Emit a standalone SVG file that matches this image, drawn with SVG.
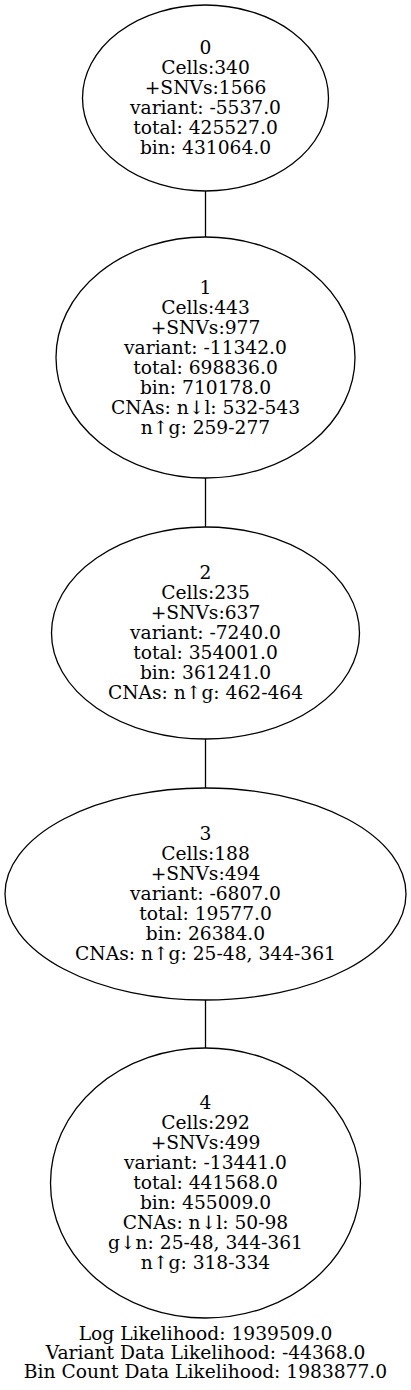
<svg xmlns="http://www.w3.org/2000/svg" width="411" height="1390" viewBox="0 0 411 1390">
<style>
  .node ellipse { fill: none; stroke: #000; stroke-width: 1.3; }
  text { font-family: "DejaVu Serif", "Liberation Serif", serif; font-size: 18.67px; text-anchor: middle; fill: #000; }
  .edges line { stroke: #000; stroke-width: 1.3; }
</style>
<rect width="411" height="1390" fill="#fff"/>
<g class="edges" id="edges">
  <line x1="205.5" y1="191" x2="205.5" y2="237"/>
  <line x1="205.5" y1="478" x2="205.5" y2="527"/>
  <line x1="205.5" y1="739" x2="205.5" y2="788"/>
  <line x1="205.5" y1="1000" x2="205.5" y2="1048"/>
</g>
<g class="node" id="node0">
  <ellipse cx="205.5" cy="98" rx="123" ry="93"/>
  <text x="205.5" y="54">0</text>
  <text x="205.5" y="74">Cells:340</text>
  <text x="205.5" y="94">+SNVs:1566</text>
  <text x="205.5" y="114">variant: -5537.0</text>
  <text x="205.5" y="134">total: 425527.0</text>
  <text x="205.5" y="154">bin: 431064.0</text>
</g>
<g class="node" id="node1">
  <ellipse cx="205.5" cy="357.5" rx="149.5" ry="120.5"/>
  <text x="205.5" y="294">1</text>
  <text x="205.5" y="314">Cells:443</text>
  <text x="205.5" y="334">+SNVs:977</text>
  <text x="205.5" y="354">variant: -11342.0</text>
  <text x="205.5" y="374">total: 698836.0</text>
  <text x="205.5" y="394">bin: 710178.0</text>
  <text x="205.5" y="414">CNAs: n↓l: 532-543</text>
  <text x="205.5" y="434">n↑g: 259-277</text>
</g>
<g class="node" id="node2">
  <ellipse cx="205.5" cy="633" rx="154" ry="106"/>
  <text x="205.5" y="579">2</text>
  <text x="205.5" y="599">Cells:235</text>
  <text x="205.5" y="619">+SNVs:637</text>
  <text x="205.5" y="639">variant: -7240.0</text>
  <text x="205.5" y="659">total: 354001.0</text>
  <text x="205.5" y="679">bin: 361241.0</text>
  <text x="205.5" y="699">CNAs: n↑g: 462-464</text>
</g>
<g class="node" id="node3">
  <ellipse cx="205.5" cy="894" rx="200.5" ry="106"/>
  <text x="205.5" y="840">3</text>
  <text x="205.5" y="860">Cells:188</text>
  <text x="205.5" y="880">+SNVs:494</text>
  <text x="205.5" y="900">variant: -6807.0</text>
  <text x="205.5" y="920">total: 19577.0</text>
  <text x="205.5" y="940">bin: 26384.0</text>
  <text x="205.5" y="960">CNAs: n↑g: 25-48, 344-361</text>
</g>
<g class="node" id="node4">
  <ellipse cx="205.5" cy="1183" rx="155" ry="135"/>
  <text x="205.5" y="1109">4</text>
  <text x="205.5" y="1129">Cells:292</text>
  <text x="205.5" y="1149">+SNVs:499</text>
  <text x="205.5" y="1169">variant: -13441.0</text>
  <text x="205.5" y="1189">total: 441568.0</text>
  <text x="205.5" y="1209">bin: 455009.0</text>
  <text x="205.5" y="1229">CNAs: n↓l: 50-98</text>
  <text x="205.5" y="1249">g↓n: 25-48, 344-361</text>
  <text x="205.5" y="1269">n↑g: 318-334</text>
</g>
<g id="graph-label">
  <text x="205.5" y="1340">Log Likelihood: 1939509.0</text>
  <text x="205.5" y="1359">Variant Data Likelihood: -44368.0</text>
  <text x="205.5" y="1378">Bin Count Data Likelihood: 1983877.0</text>
</g>
</svg>
